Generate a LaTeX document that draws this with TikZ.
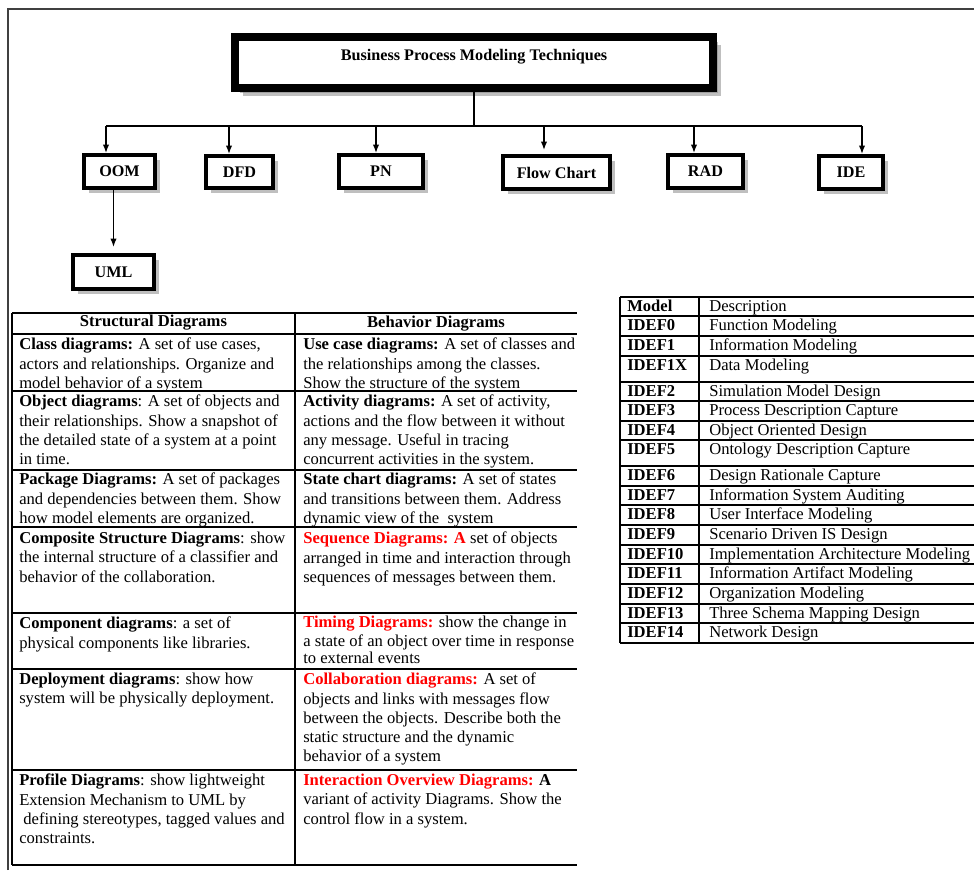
\documentclass[tikz,border=0pt]{standalone}
\usepackage{fontspec}
\setmainfont{Liberation Serif}
\usetikzlibrary{arrows.meta,shadows}
\newcommand\cellfont{\fontsize{11.8}{13.6}\selectfont}
\newcommand\redhead[1]{\textcolor{red}{\textbf{#1}}}
\tikzset{
  box/.style={draw, line width=0.1cm, fill=white, inner sep=0pt,
    font=\bfseries\fontsize{11.5}{13.6}\selectfont,
    drop shadow={shadow xshift=3.8pt, shadow yshift=-3.8pt, fill=black!50}},
  titlebox/.style={box, line width=0.2cm, minimum width=11.95cm, minimum height=1.275cm,
    text height=8pt, text depth=10.6pt,
    drop shadow={shadow xshift=5.5pt, shadow yshift=-5.5pt, fill=black!50}},
  conn/.style={line width=0.9pt},
  arrow/.style={conn, -{Latex[length=6pt,width=4.5pt]}},
  frame/.style={line width=1pt, black!75},
  tabline/.style={line width=1.1pt},
  cell/.style={anchor=north west, align=left, inner sep=0pt, font=\cellfont},
  head/.style={inner sep=0pt, font=\bfseries\cellfont}
}
\begin{document}
\begin{tikzpicture}[x=0.025cm, y=-0.025cm]
\useasboundingbox (0,0) rectangle (974,870);
% page frame
\draw[frame] (8,870) -- (8,9) -- (974,9);

% technique tree
\node[titlebox] (bpmt) at (474,62.5) {Business Process Modeling Techniques};
\node[box, minimum width=1.775cm, minimum height=0.825cm] (oom) at (119.5,171.5) {OOM};
\node[box, minimum width=1.675cm, minimum height=0.8cm] (dfd) at (239.5,172) {DFD};
\node[box, minimum width=2.1cm, minimum height=0.825cm] (pn) at (381,171.5) {PN};
\node[box, minimum width=2.675cm, minimum height=0.825cm] (flow) at (556.5,172.5) {Flow Chart};
\node[box, minimum width=1.875cm, minimum height=0.825cm] (rad) at (705.5,171.5) {RAD};
\node[box, minimum width=1.6cm, minimum height=0.825cm] (ide) at (851,172.5) {IDE};
\node[box, minimum width=2.025cm, minimum height=0.85cm] (uml) at (113.5,272) {UML};

\coordinate (b-oom) at (106,126);
\coordinate (b-dfd) at (229,126);
\coordinate (b-pn) at (376,126);
\coordinate (b-flow) at (544,126);
\coordinate (b-rad) at (694,126);
\coordinate (b-ide) at (862,126);
\draw[conn] (bpmt.south) -- (bpmt.south |- b-oom);
\draw[conn] (b-oom) -- (b-ide);
\foreach \n in {oom,dfd,pn,rad,ide}
  \draw[arrow] (b-\n) -- (b-\n |- \n.north);
\draw[arrow, shorten >=0.1cm] (b-flow) -- (b-flow |- flow.north);
\draw[arrow, shorten >=0.15cm] (uml.north |- oom.south) -- (uml.north);

% UML diagrams table
\foreach \y in {313,334,391,470,527,613,669,770,865}
  \draw[tabline] (12,\y) -- (577,\y);
\draw[tabline] (12,313) -- (12,865);
\draw[tabline] (295,313) -- (295,865);
\node[head] (structural) at (153.5,323) {Structural Diagrams};
\node[head] (behavior) at (436,324) {Behavior Diagrams};

\node[cell] (class) at (19,338) {\textbf{Class diagrams:} A set of use cases,\\ actors and relationships. Organize and\\ model behavior of a system};
\node[cell] (usecase) at (303,338) {\textbf{Use case diagrams:} A set of classes and\\ the relationships among the classes.\\ Show the structure of the system};
\node[cell] (object) at (19,395) {\textbf{Object diagrams}: A set of objects and\\ their relationships. Show a snapshot of\\ the detailed state of a system at a point\\ in time.};
\node[cell] (activity) at (303,395) {\textbf{Activity diagrams:} A set of activity,\\ actions and the flow between it without\\ any message. Useful in tracing\\ concurrent activities in the system.};
\node[cell] (package) at (19,473) {\textbf{Package Diagrams:} A set of packages\\ and dependencies between them. Show\\ how model elements are organized.};
\node[cell] (statechart) at (303,473) {\textbf{State chart diagrams:} A set of states\\ and transitions between them. Address\\ dynamic view of the \ system};
\node[cell] (composite) at (19,532) {\textbf{Composite Structure Diagrams}: show\\ the internal structure of a classifier and\\ behavior of the collaboration.};
\node[cell] (sequence) at (303,532) {\redhead{Sequence Diagrams: A} set of objects\\ arranged in time and interaction through\\ sequences of messages between them.};
\node[cell] (component) at (19,617) {\textbf{Component diagrams}: a set of\\ physical components like libraries.};
\node[cell] (timing) at (303,616) {\redhead{Timing Diagrams:} show the change in\\ a state of an object over time in response\\[-2pt] to external events};
\node[cell] (deployment) at (19,673) {\textbf{Deployment diagrams}: show how\\ system will be physically deployment.};
\node[cell] (collaboration) at (303,673) {\redhead{Collaboration diagrams:} A set of\\ objects and links with messages flow\\ between the objects. Describe both the\\ static structure and the dynamic\\ behavior of a system};
\node[cell] (profile) at (19,774) {\textbf{Profile Diagrams}: show lightweight\\ Extension Mechanism to UML by\\ \ defining stereotypes, tagged values and\\ constraints.};
\node[cell] (interaction) at (303,774) {\redhead{Interaction Overview Diagrams:} \textbf{A}\\ variant of activity Diagrams. Show the\\ control flow in a system.};

% IDEF table
\foreach \y in {297,316,336,356,382,401,421,440,466,486,505,525,545,564,584,604,623,643}
  \draw[tabline] (620,\y) -- (974,\y);
\draw[tabline] (620,297) -- (620,643);
\draw[tabline] (699,297) -- (699,643);
\foreach \y/\m/\d [count=\i] in {297/Model/Description, 316/IDEF0/Function Modeling,
    336/IDEF1/Information Modeling, 356/IDEF1X/Data Modeling,
    382/IDEF2/Simulation Model Design, 401/IDEF3/Process Description Capture,
    421/IDEF4/Object Oriented Design, 440/IDEF5/Ontology Description Capture,
    466/IDEF6/Design Rationale Capture, 486/IDEF7/Information System Auditing,
    505/IDEF8/User Interface Modeling, 525/IDEF9/Scenario Driven IS Design,
    545/IDEF10/Implementation Architecture Modeling, 564/IDEF11/Information Artifact Modeling,
    584/IDEF12/Organization Modeling, 604/IDEF13/Three Schema Mapping Design,
    623/IDEF14/Network Design}
{
  \node[anchor=base west, inner sep=0pt, font=\bfseries\cellfont] (model-\i) at (627,\y+14) {\m};
  \node[anchor=base west, inner sep=0pt, font=\cellfont] (desc-\i) at (709,\y+14) {\d};
}
\end{tikzpicture}
\end{document}
